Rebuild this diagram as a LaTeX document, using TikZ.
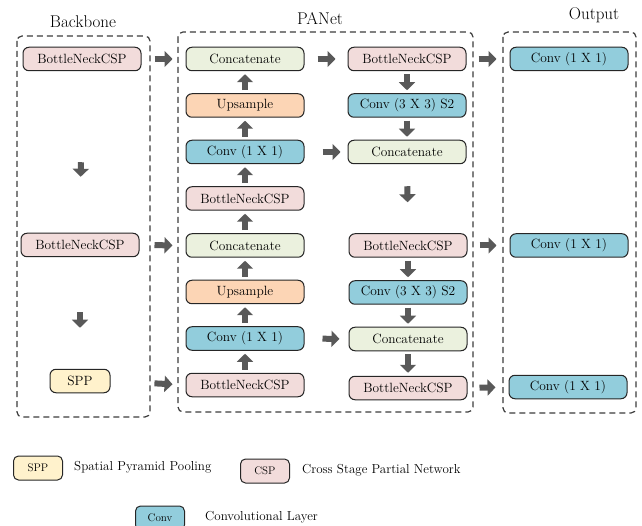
\documentclass[tikz,border=0pt]{standalone}
\usepackage{fontspec}
\usetikzlibrary{arrows.meta}
\definecolor{cspfill}{HTML}{F2DCDB}
\definecolor{catfill}{HTML}{EBF1DE}
\definecolor{upfill}{HTML}{FCD5B5}
\definecolor{convfill}{HTML}{92CDDC}
\definecolor{sppfill}{HTML}{FFF2CC}
\definecolor{arrowgray}{HTML}{595959}
\definecolor{edgegray}{HTML}{262626}
\tikzset{
  blockbox/.style={draw=edgegray, line width=1pt, rounded corners=6pt,
    minimum width=118pt, minimum height=23.5pt, inner sep=0pt,
    font=\fontsize{13.4}{15}\selectfont},
  csp/.style={blockbox, fill=cspfill},
  cat/.style={blockbox, fill=catfill},
  up/.style={blockbox, fill=upfill},
  conv/.style={blockbox, fill=convfill},
  spp/.style={blockbox, fill=sppfill, minimum width=60pt},
  panel/.style={draw=edgegray!90, line width=1.2pt, dash pattern=on 6pt off 4pt,
    rounded corners=5pt},
  paneltitle/.style={font=\fontsize{17}{19}\selectfont},
  blk/.style={draw=arrowgray, line width=6pt,
    -{Triangle[width=16pt,length=8pt]}},
  keybox/.style={draw=edgegray, line width=1pt, rounded corners=5pt,
    minimum width=49pt, minimum height=24pt, inner sep=0pt,
    font=\fontsize{11}{13}\selectfont},
  keytext/.style={anchor=west, inner sep=0pt, font=\fontsize{13}{15}\selectfont},
}
\begin{document}
\begin{tikzpicture}[x=1pt, y=-1pt]
\useasboundingbox (0,0) rectangle (642,526);

% dashed panels and their titles
\draw[panel] (17,36) rectangle (150,417);
\draw[panel] (178,32) rectangle (473,412);
\draw[panel] (503,32) rectangle (636,413);
\node[paneltitle] (tbb) at (83,22) {Backbone};
\node[paneltitle] (tpan) at (320,19) {PANet};
\node[paneltitle] (tout) at (594,15) {Output};

% backbone
\node[csp] (bb1) at (82,59) {BottleNeckCSP};
\node[csp] (bb2) at (80,245) {BottleNeckCSP};
\node[spp] (bb3) at (80,381) {SPP};

% PANet, top-down path
\node[cat]  (a1) at (245,59)    {Concatenate};
\node[up]   (a2) at (245,105.5) {Upsample};
\node[conv] (a3) at (245,152)   {Conv (1 X 1)};
\node[csp]  (a4) at (245,198.5) {BottleNeckCSP};
\node[cat]  (a5) at (245,245.5) {Concatenate};
\node[up]   (a6) at (245,292)   {Upsample};
\node[conv] (a7) at (245,338.5) {Conv (1 X 1)};
\node[csp]  (a8) at (245,385)   {BottleNeckCSP};

% PANet, bottom-up path
\node[csp]  (b1) at (407,59)    {BottleNeckCSP};
\node[conv] (b2) at (407,105.5) {Conv (3 X 3) S2};
\node[cat]  (b3) at (407,152)   {Concatenate};
\node[csp]  (b4) at (408,245.5) {BottleNeckCSP};
\node[conv] (b5) at (408,292.5) {Conv (3 X 3) S2};
\node[cat]  (b6) at (408,339)   {Concatenate};
\node[csp]  (b7) at (408,388)   {BottleNeckCSP};

% outputs
\node[conv] (o1) at (569,59)    {Conv (1 X 1)};
\node[conv] (o2) at (569,245.5) {Conv (1 X 1)};
\node[conv] (o3) at (568,387)   {Conv (1 X 1)};

% backbone flow
\draw[blk, shorten <=91pt, shorten >=56pt] (bb1.south) -- (bb2.north);
\draw[blk, shorten <=55pt, shorten >=41pt] (bb2.south) -- (bb3.north);

% backbone into PANet
\draw[blk, shorten <=13pt, shorten >=13pt] (bb1.east) -- (a1.west);
\draw[blk, shorten <=15pt, shorten >=13pt] (bb2.east) -- (a5.west);
\draw[blk, shorten <=44pt, shorten >=13pt] (bb3.east) -- (a8.west);

% top-down column
\foreach \lo/\hi in {a8/a7, a7/a6, a6/a5, a5/a4, a4/a3, a3/a2, a2/a1}
  \draw[blk, shorten <=3pt, shorten >=3pt] (\lo.north) -- (\hi.south);

% lateral links
\draw[blk, shorten <=13pt, shorten >=12pt] (a1.east) -- (b1.west);
\draw[blk, shorten <=18pt, shorten >=7pt] (a3.east) -- (b3.west);
\draw[blk, shorten <=18pt, shorten >=9pt] (a7.east) -- (b6.west);

% bottom-up column
\draw[blk, shorten <=3pt, shorten >=3pt] (b1.south) -- (b2.north);
\draw[blk, shorten <=3pt, shorten >=3pt] (b2.south) -- (b3.north);
\draw[blk, shorten <=22pt, shorten >=31pt] (b3.south) -- (b4.north);
\draw[blk, shorten <=3pt, shorten >=3pt] (b4.south) -- (b5.north);
\draw[blk, shorten <=3pt, shorten >=3pt] (b5.south) -- (b6.north);
\draw[blk, shorten <=3pt, shorten >=3pt] (b6.south) -- (b7.north);

% into the output heads
\draw[blk, shorten <=12pt, shorten >=13pt] (b1.east) -- (o1.west);
\draw[blk, shorten <=12pt, shorten >=13pt] (b4.east) -- (o2.west);
\draw[blk, shorten <=12pt, shorten >=13pt] (b7.east) -- (o3.west);

% key
\node[keybox, fill=sppfill] (k1) at (38,468) {SPP};
\node[keytext] (k1t) at (74,467) {Spatial Pyramid Pooling};
\node[keybox, fill=cspfill] (k2) at (265,471) {CSP};
\node[keytext] (k2t) at (302,470) {Cross Stage Partial Network};
\node[keybox, fill=convfill] (k3) at (160,518) {Conv};
\node[keytext] (k3t) at (205,517) {Convolutional Layer};
\end{tikzpicture}
\end{document}
